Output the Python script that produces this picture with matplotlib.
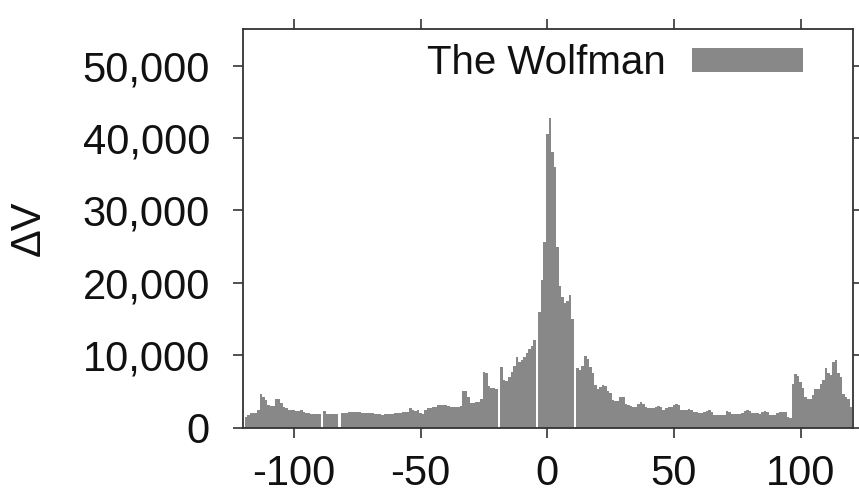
import matplotlib
matplotlib.use("Agg")
import matplotlib.pyplot as plt
from matplotlib.ticker import FuncFormatter

plt.rcParams['font.family'] = ['Liberation Sans', 'DejaVu Sans']
plt.rcParams['axes.unicode_minus'] = False

# hours relative to release
hours = list(range(-119, 121))
delta_v = [
    1500, 1800, 2000, 2000, 2000, 2400, 4600, 4200, 3800, 3100,   # -119..-110
    3000, 3000, 4000, 3900, 3400, 2800, 2700, 2400, 2400, 2400,   # -109..-100
    2300, 2300, 2500, 2200, 2000, 2000, 1900, 1950, 1900, 1900,   # -99..-90
    0, 2300, 1850, 1850, 1850, 1850, 1850, 0, 2000, 2000,         # -89..-80
    2000, 2200, 2200, 2150, 2200, 2100, 2000, 2000, 2000, 2000,   # -79..-70
    2000, 1900, 1850, 1850, 1800, 1850, 1850, 1900, 1850, 2000,   # -69..-60
    2000, 2000, 2100, 2100, 2200, 2650, 2500, 2300, 2400, 2000,   # -59..-50
    1900, 2400, 2700, 2700, 2800, 2900, 3100, 3100, 3200, 3100,   # -49..-40
    3000, 2900, 2900, 2900, 2900, 3000, 5000, 5000, 4200, 3400,   # -39..-30
    3400, 3600, 3600, 3900, 7650, 7600, 5700, 5500, 5500, 5300,   # -29..-20
    0, 8400, 6600, 6400, 7000, 7700, 8500, 9800, 9100, 9300,      # -19..-10
    9800, 10300, 10800, 11300, 12100, 0, 16000, 20400, 25700, 40500,  # -9..0
    42700, 38000, 36000, 25000, 19500, 18000, 17200, 17500, 18300, 15000,  # 1..10
    0, 8200, 8000, 8500, 9900, 9500, 8400, 7500, 5900, 5300,      # 11..20
    5600, 5900, 5700, 5000, 4800, 3800, 3700, 3700, 4300, 4200,   # 21..30
    3300, 3100, 3000, 2900, 2900, 3300, 3600, 3300, 2800, 2700,   # 31..40
    2700, 2700, 2800, 3000, 2900, 2500, 2700, 2900, 2900, 3100,   # 41..50
    3300, 3100, 2500, 2400, 2500, 2600, 2500, 2200, 2100, 2000,   # 51..60
    2000, 2100, 2300, 2500, 2100, 1800, 1750, 1750, 1700, 1800,   # 61..70
    2300, 2200, 1900, 1900, 1900, 1850, 2000, 2300, 2500, 2300,   # 71..80
    2000, 2000, 2000, 1950, 2200, 2300, 2200, 1800, 1750, 1750,   # 81..90
    2000, 2200, 2200, 2100, 1500, 1400, 6100, 7400, 7200, 6300,   # 91..100
    5500, 4300, 3900, 4000, 4500, 5400, 5400, 6000, 6600, 8300,   # 101..110
    7600, 7300, 9000, 9300, 7500, 7000, 4700, 4300, 4000, 2900,   # 111..120
]
series_label = "The Wolfman"
x_ticks = [-100, -50, 0, 50, 100]
y_ticks = [0, 10000, 20000, 30000, 40000, 50000]

bar_color = "#888888"
spine_color = "#333333"

fig = plt.figure(figsize=(8.59, 4.99), dpi=100)
ax = fig.add_axes([0.2832, 0.1429, 0.993 - 0.2832, 0.9413 - 0.1429])

ax.bar(hours, delta_v, width=1.0, color=bar_color, linewidth=0, label=series_label)

ax.set_xlim(-120, 120.7)
ax.set_ylim(0, 55000)
ax.set_xticks(x_ticks)
ax.set_yticks(y_ticks)
ax.yaxis.set_major_formatter(FuncFormatter(lambda v, p: f"{int(v):,}"))

for s in ax.spines.values():
    s.set_color(spine_color)
    s.set_linewidth(1.3)

ax.tick_params(axis='both', which='major', direction='out', length=7,
               width=1.2, color=spine_color, labelcolor='#111111',
               top=True, right=True)
ax.tick_params(axis='y', labelsize=30, pad=17)
ax.tick_params(axis='x', labelsize=30, pad=12)

ax.set_ylabel("ΔV", fontsize=30, color='#111111', labelpad=24)

leg = ax.legend(loc='upper right', bbox_to_anchor=(0.918, 0.962),
                frameon=False, markerfirst=False, fontsize=29,
                handlelength=2.75, handleheight=0.52, handletextpad=0.65,
                borderpad=0, borderaxespad=0)
for t in leg.get_texts():
    t.set_color('#111111')

fig.savefig("out.png", dpi=100)
